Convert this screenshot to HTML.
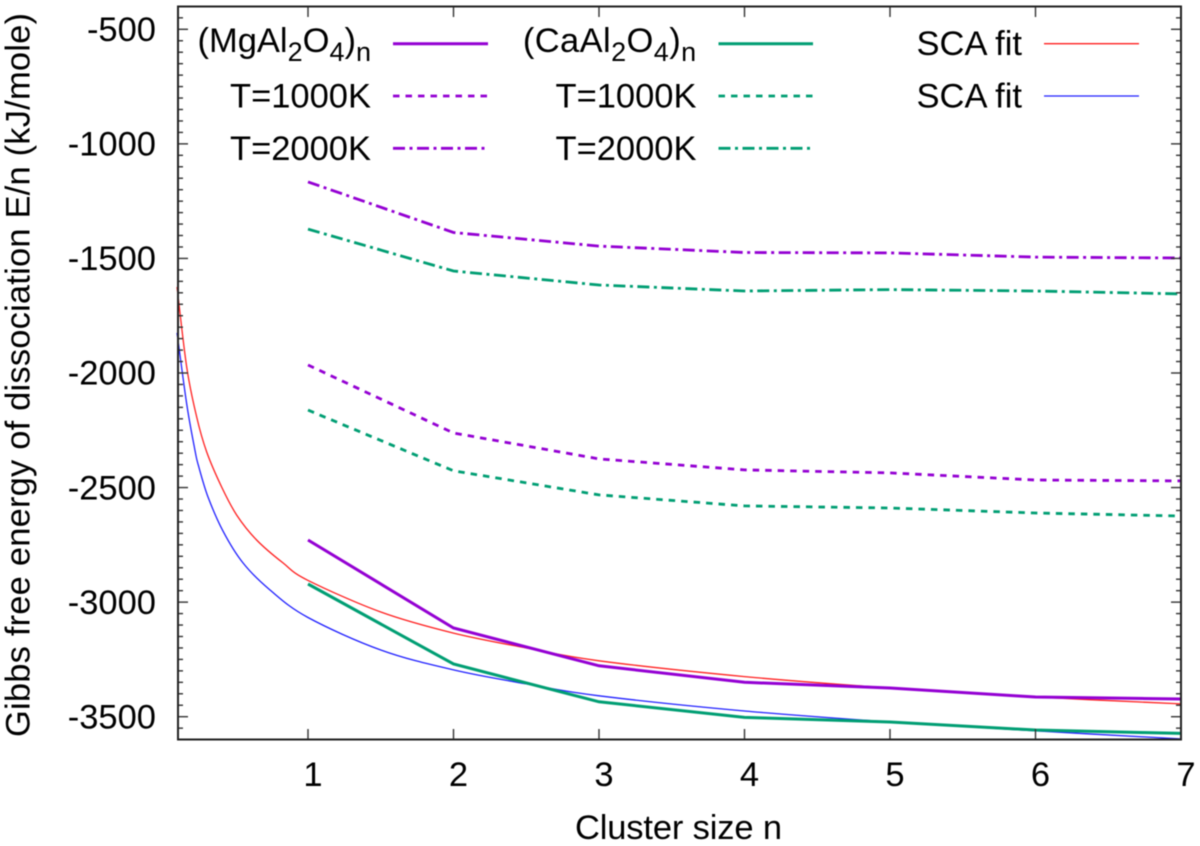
<!DOCTYPE html>
<html>
<head>
<meta charset="utf-8">
<title>Gibbs free energy of dissociation</title>
<style>
html,body{margin:0;padding:0;background:#fff;}
svg{display:block;filter:blur(0.5px);}
text{font-family:"Liberation Sans",sans-serif;font-size:34.5px;fill:#000;}
.sub{font-size:27px;}
</style>
</head>
<body>
<svg id="chart" width="1200" height="846" viewBox="0 0 1200 846" xmlns="http://www.w3.org/2000/svg">
  <rect x="0" y="0" width="1200" height="846" fill="#fff"/>
  <g id="series"></g>
  <g id="ticks"></g>
  <g id="labels"></g>
  <rect x="178" y="6.5" width="1003" height="733" fill="none" stroke="#222" stroke-width="2"/>
  <text x="575" y="839" textLength="207" lengthAdjust="spacing">Cluster size n</text>
  <text transform="translate(29.5,737) rotate(-90)" textLength="724" lengthAdjust="spacing">Gibbs free energy of dissociation E/n (kJ/mole)</text>
  <g>
    <text x="371" y="52" text-anchor="end">(MgAl<tspan class="sub" dy="9">2</tspan><tspan dy="-9">O</tspan><tspan class="sub" dy="9">4</tspan><tspan dy="-9">)</tspan><tspan class="sub" dy="9">n</tspan></text>
    <text x="371" y="107.5" text-anchor="end">T=1000K</text>
    <text x="371" y="160" text-anchor="end">T=2000K</text>
    <text x="696.5" y="52" text-anchor="end" style="letter-spacing:0.4px">(CaAl<tspan class="sub" dy="9">2</tspan><tspan dy="-9">O</tspan><tspan class="sub" dy="9">4</tspan><tspan dy="-9">)</tspan><tspan class="sub" dy="9">n</tspan></text>
    <text x="696.5" y="107.5" text-anchor="end">T=1000K</text>
    <text x="696.5" y="160" text-anchor="end">T=2000K</text>
    <text x="1022" y="55" text-anchor="end">SCA fit</text>
    <text x="1022" y="107.5" text-anchor="end">SCA fit</text>
    <line x1="393" y1="43.7" x2="488" y2="43.7" stroke="#9400d3" stroke-width="3"/>
    <line x1="393" y1="96" x2="488" y2="96" stroke="#9400d3" stroke-width="2.8" stroke-dasharray="6.5 6"/>
    <line x1="393" y1="148.3" x2="488" y2="148.3" stroke="#9400d3" stroke-width="2.8" stroke-dasharray="12 4.5 3 4.5"/>
    <line x1="718.5" y1="43.7" x2="813" y2="43.7" stroke="#009e73" stroke-width="3"/>
    <line x1="718.5" y1="96" x2="813" y2="96" stroke="#009e73" stroke-width="2.8" stroke-dasharray="6.5 6"/>
    <line x1="718.5" y1="148.3" x2="813" y2="148.3" stroke="#009e73" stroke-width="2.8" stroke-dasharray="12 4.5 3 4.5"/>
    <line x1="1044" y1="43.7" x2="1139" y2="43.7" stroke="#ff2020" stroke-width="1.3"/>
    <line x1="1044" y1="96" x2="1139" y2="96" stroke="#2020ff" stroke-width="1.3"/>
  </g>
</svg>
<script>
const clusterSizes = [1, 2, 3, 4, 5, 6, 7];
const mg0K = [-2729, -3113, -3278, -3350, -3375, -3414, -3423];
const mg1000K = [-1965, -2262, -2375, -2423, -2436, -2467, -2471];
const mg2000K = [-1166, -1387, -1446, -1474, -1476, -1494, -1498];
const ca0K = [-2921, -3270, -3435, -3503, -3523, -3558, -3573];
const ca1000K = [-2162, -2427, -2532, -2580, -2589, -2611, -2624];
const ca2000K = [-1372, -1555, -1616, -1642, -1636, -1642, -1655];
const redFitN = [0.1, 0.166, 0.235, 0.304, 0.407, 0.51, 0.647, 0.828, 1, 1.5, 2, 2.5, 3, 4, 5, 6, 7];
const redFitE = [-1625, -1974, -2192, -2345, -2498, -2620, -2729, -2829, -2905, -3043, -3135, -3200, -3256, -3325, -3375, -3414, -3444];
const blueFitN = [0.1, 0.166, 0.223, 0.246, 0.313, 0.416, 0.553, 0.739, 1, 1.5, 2, 2.5, 3, 4, 5, 6, 7];
const blueFitE = [-1825, -2135, -2336, -2402, -2541, -2690, -2829, -2947, -3067, -3209, -3296, -3357, -3409, -3475, -3523, -3562, -3597];
const yTickLabels = [-500, -1000, -1500, -2000, -2500, -3000, -3500];
const xTickLabels = [1, 2, 3, 4, 5, 6, 7];
const yMinorStep = 50;
const yDomainTop = -400;
const yDomainBottom = -3600;

const NS = 'http://www.w3.org/2000/svg';
function xScale(n) { return 308 + (n - 1) * 145.5; }
function yScale(v) { return 29.3 + (-500 - v) * 0.22913; }

function polyPath(xs, ys) {
  return xs.map(function (n, i) {
    return (i ? 'L' : 'M') + xScale(n).toFixed(1) + ' ' + yScale(ys[i]).toFixed(1);
  }).join(' ');
}
function smoothPath(xs, ys) {
  const p = xs.map(function (n, i) { return [xScale(n), yScale(ys[i])]; });
  let d = 'M' + p[0][0].toFixed(1) + ' ' + p[0][1].toFixed(1);
  for (let i = 0; i < p.length - 1; i++) {
    const a = p[Math.max(i - 1, 0)], b = p[i], c = p[i + 1], e = p[Math.min(i + 2, p.length - 1)];
    d += ' C' + (b[0] + (c[0] - a[0]) / 6).toFixed(1) + ' ' + (b[1] + (c[1] - a[1]) / 6).toFixed(1) +
         ' ' + (c[0] - (e[0] - b[0]) / 6).toFixed(1) + ' ' + (c[1] - (e[1] - b[1]) / 6).toFixed(1) +
         ' ' + c[0].toFixed(1) + ' ' + c[1].toFixed(1);
  }
  return d;
}

const seriesGroup = document.getElementById('series');
const tickGroup = document.getElementById('ticks');
const labelGroup = document.getElementById('labels');

function addSeries(name, d, color, width, dash) {
  const el = document.createElementNS(NS, 'path');
  
  
  el.setAttribute('d', d);
  el.setAttribute('fill', 'none');
  el.setAttribute('stroke', color);
  el.setAttribute('stroke-width', width);
  if (dash) el.setAttribute('stroke-dasharray', dash);
  seriesGroup.appendChild(el);
}
function addTick(name, x1, y1, x2, y2, width) {
  const el = document.createElementNS(NS, 'line');
  
  
  el.setAttribute('x1', x1);
  el.setAttribute('y1', y1);
  el.setAttribute('x2', x2);
  el.setAttribute('y2', y2);
  el.setAttribute('stroke', '#333');
  el.setAttribute('stroke-width', width);
  tickGroup.appendChild(el);
}
function addLabel(name, x, y, anchor, content) {
  const el = document.createElementNS(NS, 'text');
  
  
  el.setAttribute('x', x);
  el.setAttribute('y', y);
  el.setAttribute('text-anchor', anchor);
  el.textContent = content;
  labelGroup.appendChild(el);
}

const DASH_1000 = '6.5 6';
const DASH_2000 = '12 4.5 3 4.5';
addSeries('series-sca-fit-red', smoothPath(redFitN, redFitE), '#ff2020', 1.3);
addSeries('series-sca-fit-blue', smoothPath(blueFitN, blueFitE), '#2020ff', 1.3);
addSeries('series-mg-0k', polyPath(clusterSizes, mg0K), '#9400d3', 3);
addSeries('series-mg-1000k', polyPath(clusterSizes, mg1000K), '#9400d3', 2.8, DASH_1000);
addSeries('series-mg-2000k', polyPath(clusterSizes, mg2000K), '#9400d3', 2.8, DASH_2000);
addSeries('series-ca-0k', polyPath(clusterSizes, ca0K), '#009e73', 3);
addSeries('series-ca-1000k', polyPath(clusterSizes, ca1000K), '#009e73', 2.8, DASH_1000);
addSeries('series-ca-2000k', polyPath(clusterSizes, ca2000K), '#009e73', 2.8, DASH_2000);

for (let v = yDomainTop; v >= yDomainBottom; v -= yMinorStep) {
  if (v === yDomainTop || v === yDomainBottom) continue;
  const y = yScale(v);
  const isMajor = yTickLabels.indexOf(v) !== -1;
  const len = isMajor ? 10 : 5;
  addTick('y-tick-left', 178, y, 178 + len, y, 1.4);
  addTick('y-tick-right', 1181, y, 1181 - len, y, 1.4);
}
xTickLabels.forEach(function (n) {
  const x = xScale(n);
  if (n !== 7) {
    addTick('x-tick-bottom', x, 740, x, 729, 1.4);
    addTick('x-tick-top', x, 6, x, 17, 1.4);
  }
  addLabel('x-tick-label', x + 5, 786, 'middle', String(n));
});
yTickLabels.forEach(function (v) {
  addLabel('y-tick-label', 156, yScale(v) + 11.7, 'end', String(v));
});
</script>
</body>
</html>
